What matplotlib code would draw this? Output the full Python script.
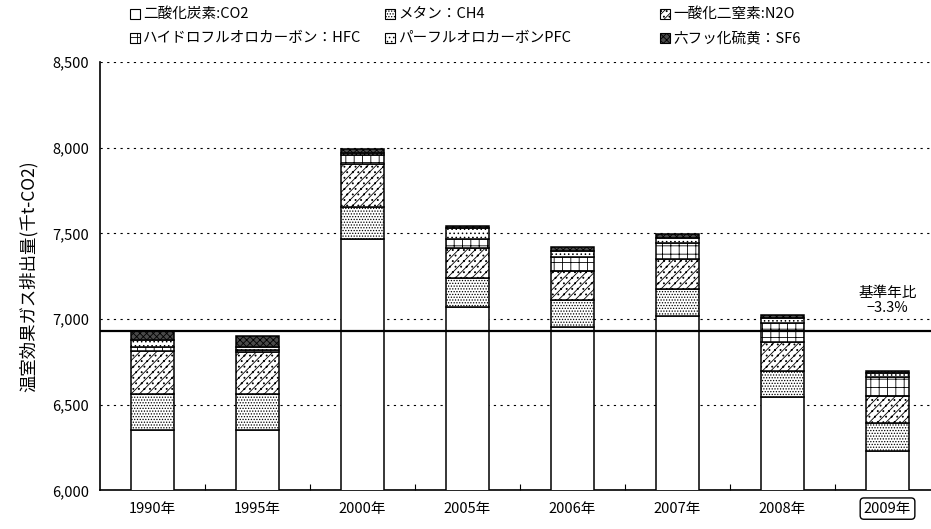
import matplotlib
matplotlib.use("Agg")
import matplotlib.pyplot as plt
from matplotlib.patches import Rectangle
from matplotlib.ticker import FuncFormatter

plt.rcParams["font.family"] = ["Noto Sans CJK JP", "DejaVu Sans"]
plt.rcParams["hatch.linewidth"] = 0.6
plt.rcParams["hatch.color"] = "black"

# 年度別 温室効果ガス排出量 (千t-CO2)
years = ["1990年", "1995年", "2000年", "2005年", "2006年", "2007年", "2008年", "2009年"]
co2 = [6353, 6353, 7467, 7072, 6955, 7020, 6547, 6229]
ch4 = [210, 210, 185, 166, 156, 156, 150, 166]
n2o = [253, 245, 253, 175, 170, 173, 171, 155]
hfc = [22, 12, 52, 54, 82, 93, 111, 113]
pfc = [38, 15, 14, 63, 35, 29, 26, 24]
sf6 = [57, 68, 21, 13, 23, 24, 19, 13]

base_year = 6930
base_note = "基準年比\n−3.3%"

gas_labels = [
    "二酸化炭素:CO2",
    "メタン：CH4",
    "一酸化二窒素:N2O",
    "ハイドロフルオロカーボン：HFC",
    "パーフルオロカーボンPFC",
    "六フッ化硫黄：SF6",
]
gas_values = [co2, ch4, n2o, hfc, pfc, sf6]
gas_faces = ["white", "white", "white", "white", "white", "#4a4a4a"]
gas_hatches = [None, "......", "////...", "++", "....", "xxxxx"]

W, H = 931, 529
fig = plt.figure(figsize=(W / 100, H / 100), dpi=100)
ax = fig.add_axes([0.1074, 0.0728, 0.8926, 0.81])

x = list(range(len(years)))
bottom = [0] * len(years)
for vals, fc, hatch in zip(gas_values, gas_faces, gas_hatches):
    ax.bar(x, vals, bottom=bottom, width=0.41, color=fc, edgecolor="black",
           linewidth=1.1, hatch=hatch, zorder=3)
    bottom = [b + v for b, v in zip(bottom, vals)]

# 基準年の排出量ライン
ax.axhline(base_year, color="black", linewidth=1.6, zorder=4)
ax.text(7.0, base_year + 95, base_note, ha="center", va="bottom", fontsize=10.5,
        linespacing=1.1)

ax.set_ylim(6000, 8500)
ax.set_xlim(-0.5, 7.414)
ax.set_yticks([6000, 6500, 7000, 7500, 8000, 8500])
ax.yaxis.set_major_formatter(FuncFormatter(lambda v, p: f"{int(v):,}"))
ax.grid(axis="y", color="black", linestyle=(0, (2, 4)), linewidth=0.8, zorder=1)
ax.tick_params(axis="y", length=0, labelsize=10.5, pad=8)

ax.set_xticks(x)
ax.set_xticklabels(years, fontsize=10.5)
ax.tick_params(axis="x", length=0, pad=8)
ax.set_xticks([i + 0.5 for i in x[:-1]], minor=True)
ax.tick_params(axis="x", which="minor", direction="in", length=4, width=0.8)
ax.get_xticklabels()[-1].set_bbox(
    dict(boxstyle="round,pad=0.25", facecolor="white", edgecolor="black", linewidth=1.0))

for side in ("top", "right"):
    ax.spines[side].set_visible(False)
ax.spines["left"].set_linewidth(1.2)
ax.spines["bottom"].set_linewidth(1.2)

ax.set_ylabel("温室効果ガス排出量(千t-CO2)", fontsize=12.5, labelpad=10)

# 凡例 (3列×2行, 手動配置)
col_x = [130, 385, 660]
row_y = [14, 38]
box = 10
for i, (label, fc, hatch) in enumerate(zip(gas_labels, gas_faces, gas_hatches)):
    px, py = col_x[i % 3], row_y[i // 3]
    fig.patches.append(Rectangle((px / W, 1 - (py + box / 2) / H), box / W, box / H,
                                 transform=fig.transFigure, facecolor=fc,
                                 edgecolor="black", linewidth=0.8, hatch=hatch))
    fig.text((px + box + 3) / W, 1 - py / H, label, ha="left", va="center", fontsize=10.5)

fig.savefig("out.png", dpi=100)
